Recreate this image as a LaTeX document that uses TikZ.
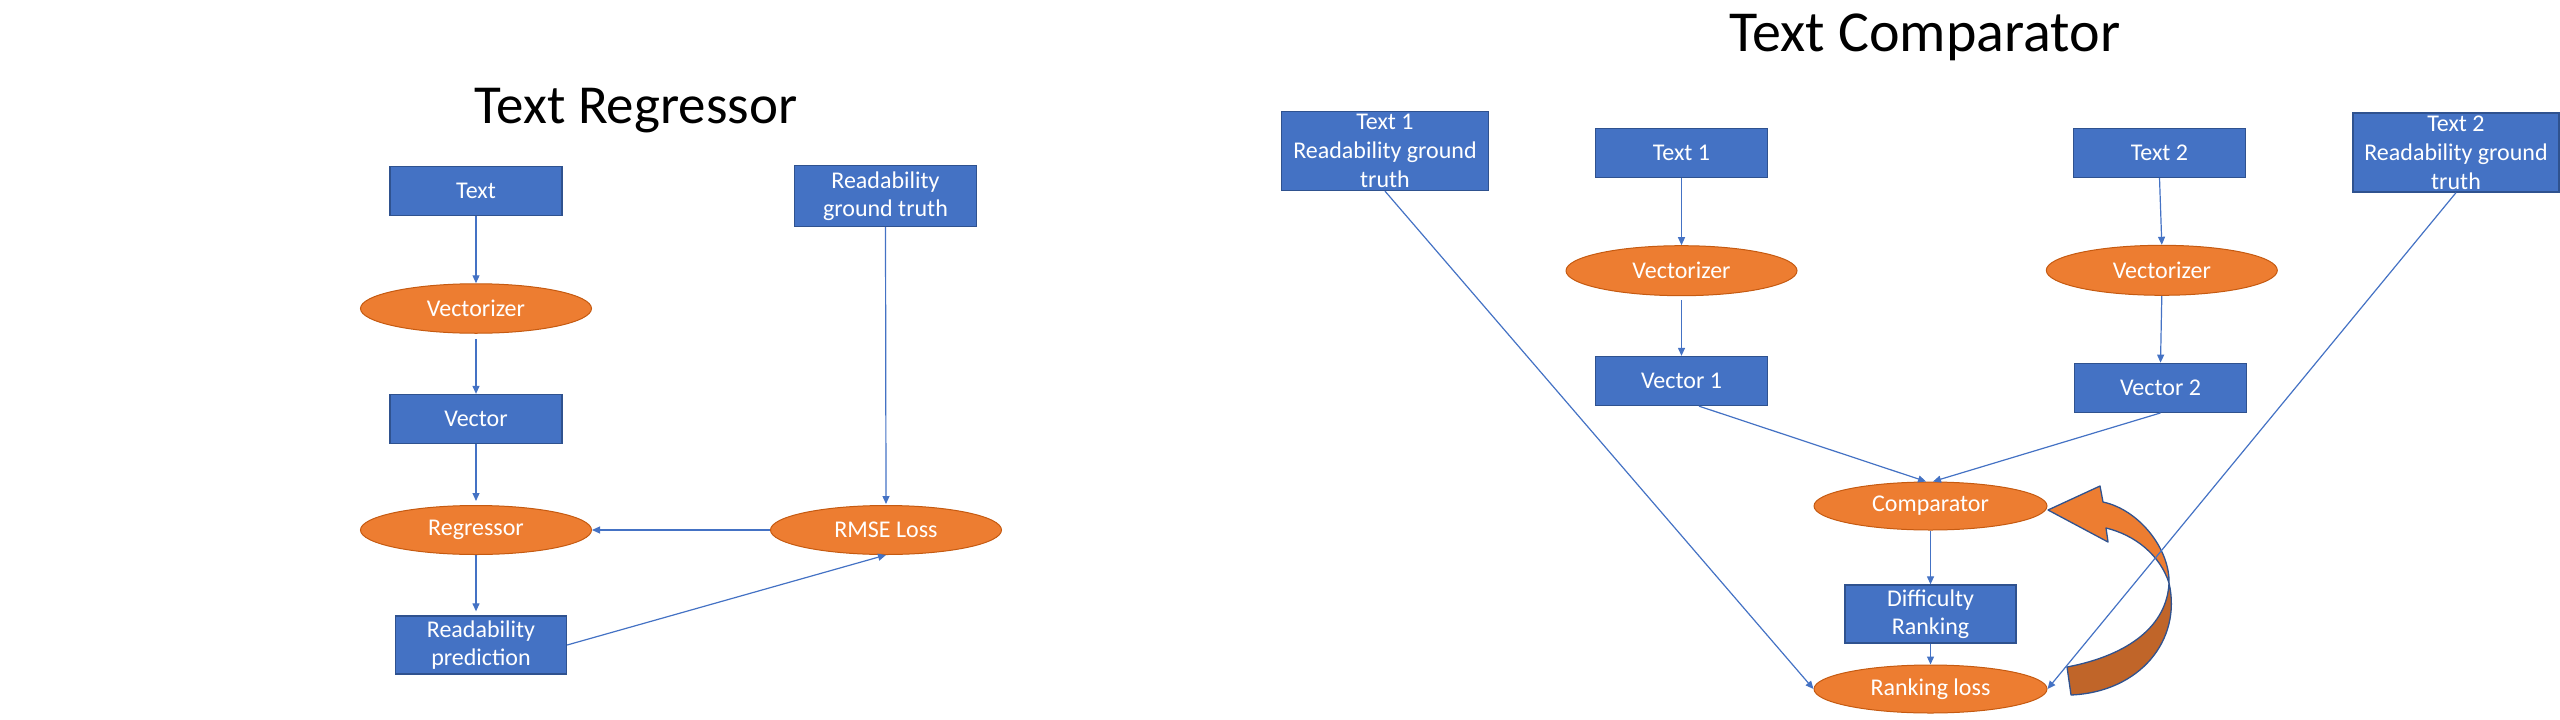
\documentclass[tikz,border=0pt]{standalone}
\usepackage{fontspec}
\setmainfont{Carlito}
\usetikzlibrary{shapes.geometric,arrows.meta,calc}
\definecolor{boxblue}{HTML}{4472C4}
\definecolor{boxedge}{HTML}{2F528F}
\definecolor{ovorange}{HTML}{ED7D31}
\definecolor{ovedge}{HTML}{C55A11}
\definecolor{darkorange}{RGB}{192,101,41}
\definecolor{linkblue}{HTML}{4472C4}
\begin{document}
\begin{tikzpicture}[x=1pt,y=-1pt,
  box/.style={rectangle, fill=boxblue, draw=boxedge, line width=1.3pt, text=white,
    font=\fontsize{24}{28}\selectfont, align=center, inner sep=0pt},
  oval/.style={ellipse, fill=ovorange, draw=ovedge, line width=1pt, text=white,
    font=\fontsize{24}{28}\selectfont, inner sep=0pt},
  link/.style={draw=linkblue, line width=1.2pt, -{Triangle[length=8pt,width=7pt]}},
  ttl/.style={text=black, inner sep=0pt, anchor=base}]
\useasboundingbox (0,0) rectangle (2560,720);

% ---------- Text Regressor ----------
\node[ttl, font=\fontsize{55}{66}\selectfont] (ttl1) at (636,123) {Text Regressor};
\node[box, minimum width=172pt, minimum height=49pt] (t) at (476,191) {Text};
\node[box, minimum width=182pt, minimum height=61pt] (rgt) at (885.5,196) {Readability\\ground truth};
\node[oval, minimum width=231pt, minimum height=49.5pt] (vz) at (476,308.5) {Vectorizer};
\node[box, minimum width=172pt, minimum height=49pt] (vec) at (476,419) {Vector};
\node[oval, minimum width=231pt, minimum height=49pt] (reg) at (476,530) {Regressor};
\node[oval, minimum width=231pt, minimum height=49pt] (rmse) at (886,530) {RMSE Loss};
\node[box, minimum width=171pt, minimum height=58pt] (rp) at (481,645) {Readability\\prediction};

\draw[link] (t.south) -- (vz.north);
\draw[link] ($(vz.south)+(0,5)$) -- (vec.north);
\draw[link] (vec.south) -- ($(reg.north)+(0,-4)$);
\draw[link] (reg.south) -- ($(reg.south |- rp.north)+(0,-4)$);
\draw[link] (rmse.west) -- (reg.east);
\draw[link] (rp.east) -- (rmse.south);
\draw[link] (rgt.south) -- ($(rmse.north)+(0,-1)$);

% ---------- Text Comparator ----------
\node[ttl, font=\fontsize{58}{70}\selectfont] (ttl2) at (1925,51.7) {Text Comparator};
\node[box, minimum width=207pt, minimum height=79pt, font=\fontsize{24}{29}\selectfont] (r1) at (1385,151) {Text 1\\Readability ground\\truth};
\node[box, minimum width=172.5pt, minimum height=49pt] (t1) at (1681.5,152.8) {Text 1};
\node[oval, minimum width=231pt, minimum height=50pt] (vz1) at (1681.5,270.7) {Vectorizer};
\node[box, minimum width=172.5pt, minimum height=49pt] (v1) at (1681.5,381) {Vector 1};
\node[box, minimum width=172.5pt, minimum height=49pt] (t2) at (2159.5,152.8) {Text 2};
\node[oval, minimum width=231pt, minimum height=50pt] (vz2) at (2161.8,270.3) {Vectorizer};
\node[box, minimum width=172.5pt, minimum height=49pt] (v2) at (2160.5,387.8) {Vector 2};
\node[box, minimum width=206pt, minimum height=79pt, font=\fontsize{24}{29}\selectfont] (r2) at (2456,152.5) {Text 2\\Readability ground\\truth};
\node[oval, minimum width=233pt, minimum height=48pt] (cmp) at (1930.5,506) {Comparator};
\node[box, minimum width=171pt, minimum height=58pt] (dr) at (1930.5,614) {Difficulty\\Ranking};
\node[oval, minimum width=233pt, minimum height=48pt] (rl) at (1930.5,689) {Ranking loss};

% curved block arrow (feedback from ranking loss to comparator)
\filldraw[fill=darkorange, draw=boxedge, line width=1.3pt, line join=round]
  (2067,667) .. controls (2130,655) and (2167,625) .. (2169,583)
  .. controls (2182,640) and (2140,692) .. (2071,695) -- cycle;
\filldraw[fill=ovorange, draw=boxedge, line width=1.3pt, line join=round]
  (2169,583) .. controls (2170,550) and (2140,510) .. (2103,502)
  -- (2100,486) -- (2048,510) -- (2108,542) -- (2106,528)
  .. controls (2135,535) and (2160,555) .. (2169,583) -- cycle;

\draw[link] (t1.south) -- (vz1.north);
\draw[link] ($(vz1.south)+(0,4)$) -- (v1.north);
\draw[link] (t2.south) -- (vz2.north);
\draw[link] (vz2.south) -- (v2.north);
\draw[link] ($(v1.south)+(17.5,0)$) -- ($(cmp.north)+(-4.5,0)$);
\draw[link] (v2.south) -- ($(cmp.north)+(2.5,0)$);
\draw[link] (cmp.south) -- (dr.north);
\draw[link] (dr.south) -- (rl.north);
\draw[link] (r1.south) -- (rl.west);
\draw[link] (r2.south) -- (rl.east);
\end{tikzpicture}
\end{document}
